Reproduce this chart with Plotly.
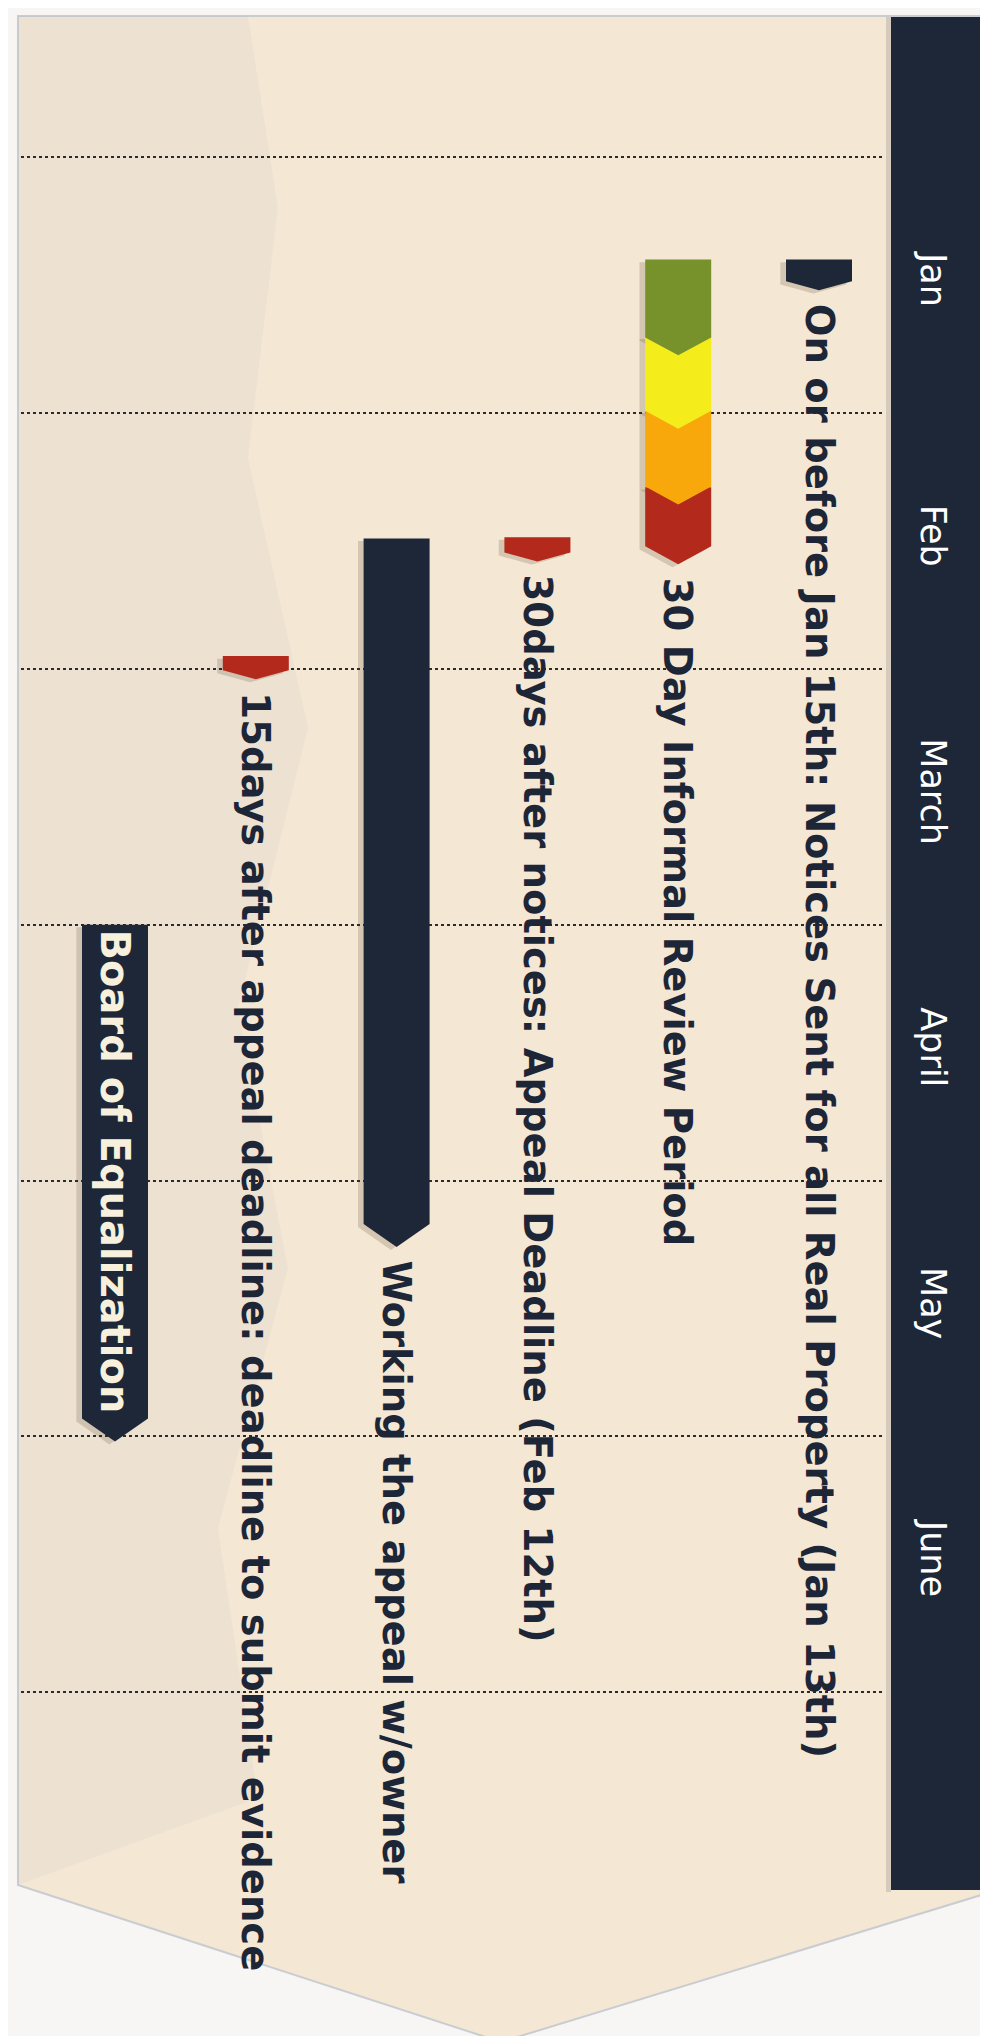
import plotly.graph_objects as go

# months along the (vertical) time axis, 0 = 1 Jan, 1 = 1 Feb ...
months = ["Jan", "Feb", "March", "April", "May", "June"]

# timeline rows, right to left
task_labels = [
    "On or before Jan 15th: Notices Sent for all Real Property (Jan 13th)",
    "30 Day Informal Review Period",
    "30days after notices: Appeal Deadline (Feb 12th)",
    "Working the appeal w/owner",
    "15days after appeal deadline: deadline to submit evidence",
    "Board of Equalization",
]
task_row = [0, 1, 2, 3, 4, 5]
task_start = [0.40, 0.40, 1.485, 1.49, 1.95, 3.00]
task_end = [0.52, 1.59, 1.58, 4.26, 2.04, 5.02]
task_kind = ["marker", "phases", "marker", "bar", "marker", "box"]
task_color = ["#1d2738", None, "#b3291b", "#1d2738", "#b3291b", "#1d2738"]

# the informal review period is split in four coloured chevrons
phase_start = [0.40, 0.70, 0.99, 1.29]
phase_end = [0.774, 1.061, 1.357, 1.591]
phase_color = ["#77912b", "#f5ec1c", "#f8a80b", "#b3291b"]

W, H = 988, 2036
L, R = 13, 876           # plot area in px
MONTH_PX = 255.8
JAN_PX = 149.3
ROW0_PX, ROW_PX = 811, 140.8

HW = 33 / ROW_PX         # half bar width in row units
TIP = {"marker": 0.035, "phases": 0.07, "bar": 0.09, "box": 0.09}
NAVY = "#1d2738"
FONT = "DejaVu Sans"


def chevron(row, s, e, depth):
    xs = [row - HW, row + HW, row + HW, row, row - HW, row - HW]
    ys = [s, s, e - depth, e, e - depth, s]
    return xs, ys


def px_x(p):
    return (p - L) / (R - L)


def px_y(p):
    return 1 - p / H


def path_of(points):
    return "M " + " L ".join(f"{px_x(x):.4f},{px_y(y):.4f}" for x, y in points) + " Z"


fig = go.Figure()

# collect pieces: (row, start, end, depth, colour)
pieces = []
for i in range(len(task_labels)):
    if task_kind[i] == "phases":
        for s, e, c in zip(phase_start, phase_end, phase_color):
            pieces.append((task_row[i], s, e, TIP["phases"], c))
    else:
        pieces.append((task_row[i], task_start[i], task_end[i], TIP[task_kind[i]], task_color[i]))

# soft shadows first
for row, s, e, d, c in pieces:
    xs, ys = chevron(row + 0.04, s + 0.01, e + 0.012, d)
    fig.add_trace(go.Scatter(x=xs, y=ys, fill="toself", mode="lines", line=dict(width=0),
                             fillcolor="rgba(70,50,30,0.18)", hoverinfo="skip", showlegend=False))

# later pieces underneath earlier ones so the chevron tips overlap
for row, s, e, d, c in reversed(pieces):
    xs, ys = chevron(row, s, e, d)
    fig.add_trace(go.Scatter(x=xs, y=ys, fill="toself", mode="lines", line=dict(width=0),
                             fillcolor=c, hoverinfo="skip", showlegend=False))

# labels
for i, lab in enumerate(task_labels):
    if task_kind[i] == "box":
        fig.add_annotation(x=task_row[i], y=(task_start[i] + task_end[i] - TIP["box"]) / 2, text=lab,
                           textangle=90, showarrow=False, xanchor="center", yanchor="middle",
                           font=dict(family=FONT, size=40, color="#f6f0dc", weight="bold"))
    else:
        fig.add_annotation(x=task_row[i], y=task_end[i] + 0.045, text=lab,
                           textangle=90, showarrow=False, xanchor="center", yanchor="top",
                           font=dict(family=FONT, size=38.5, color="#1d2637", weight="bold"))

# paper background (banner shape), faint watermark and month band
bg = [(10, 8), (986, 8), (986, 1883), (493, 2034), (10, 1877)]
mark = [(10, 8), (240, 8), (270, 200), (240, 450), (300, 720), (230, 1000), (280, 1260),
        (210, 1520), (250, 1790), (10, 1877)]
shapes = [
    dict(type="path", xref="paper", yref="paper", path=path_of(bg), fillcolor="#f4e7d4",
         line=dict(width=2, color="#c9ccd0"), layer="below"),
    dict(type="path", xref="paper", yref="paper", path=path_of(mark),
         fillcolor="rgba(160,170,182,0.07)", line=dict(width=0), layer="below"),
    dict(type="rect", xref="paper", yref="paper", x0=px_x(878), x1=px_x(883), y0=px_y(1884), y1=px_y(9),
         fillcolor="rgba(40,40,50,0.15)", line=dict(width=0), layer="below"),
    dict(type="rect", xref="paper", yref="paper", x0=px_x(883), x1=px_x(983), y0=px_y(1882), y1=px_y(9),
         fillcolor=NAVY, line=dict(width=0), layer="below"),
]

y_top = -JAN_PX / MONTH_PX
y_bot = (H - JAN_PX) / MONTH_PX
x_left = (ROW0_PX - L) / ROW_PX
x_right = (ROW0_PX - R) / ROW_PX

fig.update_layout(
    width=W, height=H,
    margin=dict(l=L, r=W - R, t=0, b=0),
    paper_bgcolor="#f7f6f4", plot_bgcolor="rgba(0,0,0,0)",
    shapes=shapes,
    xaxis=dict(range=[x_left, x_right], visible=False, fixedrange=True),
    yaxis=dict(
        range=[y_bot, y_top], side="right", automargin=False,
        tickvals=[i + 0.5 for i in range(len(months))], ticktext=months,
        tickangle=90, ticks="outside", ticklen=22, tickcolor="rgba(0,0,0,0)",
        tickfont=dict(family=FONT, size=35, color="#ffffff"),
        showgrid=False, zeroline=False, showline=False,
        minor=dict(tickvals=list(range(len(months) + 1)), showgrid=True,
                   gridcolor="#2b2b2b", griddash="dot", gridwidth=1.5, ticks=""),
    ),
    showlegend=False,
)

fig.write_html("out.html")
